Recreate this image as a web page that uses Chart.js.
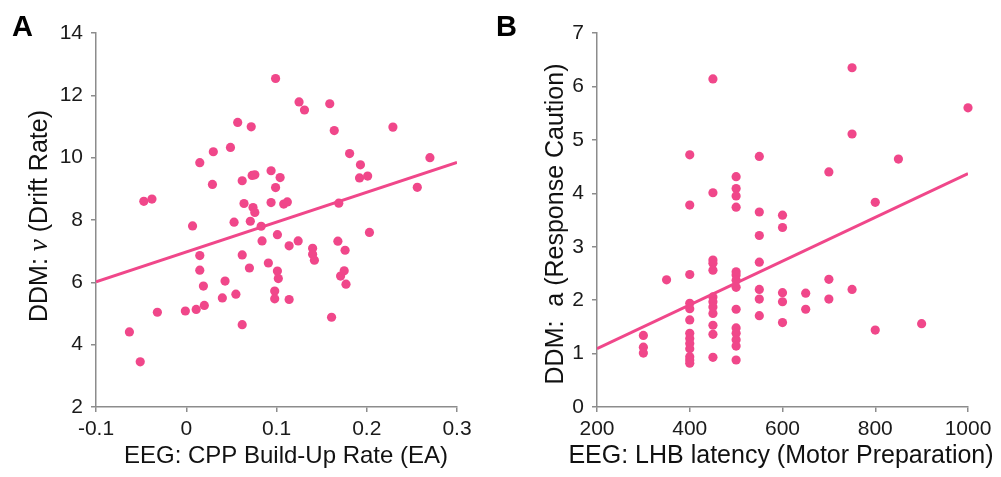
<!DOCTYPE html>
<html>
<head>
<meta charset="utf-8">
<script src="https://cdn.jsdelivr.net/npm/chart.js@4/dist/chart.umd.min.js"></script>
<style>
  body { margin: 0; background: #fff; }
  #wrap { position: relative; width: 1001px; height: 477px; }
  .panel { position: absolute; top: 0; height: 477px; }
  #boxA { left: 0; width: 480px; }
  #boxB { left: 480px; width: 521px; }
  .letter { position: absolute; top: 10px; line-height: 1; font: bold 29px "Liberation Sans", Arial, sans-serif; color: #000; }
</style>
</head>
<body>
<div id="wrap">
  <div class="panel" id="boxA"><canvas id="chartA"></canvas></div>
  <div class="panel" id="boxB"><canvas id="chartB"></canvas></div>
  <div class="letter" style="left:12px">A</div>
  <div class="letter" style="left:496px">B</div>
</div>
<script>
// Panel A - CPP build-up rate vs drift rate
const cppRate = [-0.063, -0.051, -0.047, -0.038, -0.032, -0.001, 0.007, 0.011, 0.015, 0.015, 0.015, 0.019, 0.020,
  0.029, 0.030, 0.040, 0.043, 0.049, 0.053, 0.055, 0.057, 0.062, 0.062, 0.062, 0.064, 0.070, 0.071, 0.072,
  0.073, 0.076, 0.074, 0.076, 0.083, 0.084, 0.091, 0.094, 0.094, 0.098, 0.098, 0.099, 0.099, 0.101, 0.101,
  0.102, 0.104, 0.108, 0.112, 0.114, 0.114, 0.124, 0.125, 0.131, 0.140, 0.140, 0.142, 0.159, 0.161, 0.164,
  0.168, 0.169, 0.171, 0.175, 0.176, 0.177, 0.181, 0.192, 0.193, 0.201, 0.203, 0.229, 0.256, 0.270];
const driftRate = [4.41, 3.45, 8.60, 8.67, 5.04, 5.08, 7.81, 5.13, 9.84, 6.86, 6.39, 5.88, 5.26,
  9.14, 10.19, 5.50, 6.04, 10.33, 7.93, 5.62, 11.13, 9.26, 6.88, 4.64, 8.53, 6.46, 7.96, 10.99,
  9.43, 9.45, 8.40, 8.24, 7.80, 7.33, 6.62, 9.58, 8.56, 5.72, 5.47, 12.54, 9.04, 7.53, 6.36,
  6.12, 9.36, 8.51, 8.58, 7.17, 5.45, 7.33, 11.79, 11.53, 7.09, 6.90, 6.71, 11.73, 4.88, 10.87,
  7.32, 8.54, 6.20, 6.37, 7.03, 5.94, 10.13, 9.35, 9.77, 9.41, 7.60, 10.98, 9.05, 10.00];
const fitA_x = [-0.1, 0.3];
const fitA_y = [6.02, 9.85];

// Panel B - LHB latency vs response caution
const lhbLatency = [300, 300, 300, 350,
  400, 400, 400, 400, 400, 400, 400, 400, 400, 400, 400, 400, 400,
  450, 450, 450, 450, 450, 450, 450, 450, 450, 450, 450, 450,
  500, 500, 500, 500, 500, 500, 500, 500, 500, 500, 500, 500, 500, 500,
  550, 550, 550, 550, 550, 550, 550,
  600, 600, 600, 600, 600, 650, 650, 700, 700, 700, 750, 750, 750, 800, 800, 850, 900, 1000];
const responseCaution = [1.34, 1.12, 1.01, 2.38,
  4.72, 3.78, 2.48, 1.94, 1.84, 1.63, 1.38, 1.28, 1.19, 1.09, 0.94, 0.88, 0.82,
  6.14, 4.01, 2.75, 2.69, 2.56, 2.06, 1.97, 1.87, 1.75, 1.53, 1.36, 0.93,
  4.31, 4.09, 3.95, 3.74, 2.53, 2.47, 2.37, 2.24, 1.83, 1.48, 1.38, 1.26, 1.14, 0.88,
  4.69, 3.65, 3.21, 2.71, 2.20, 2.02, 1.71,
  3.59, 3.36, 2.14, 1.97, 1.58, 2.13, 1.83, 4.40, 2.39, 2.02, 6.35, 5.11, 2.20, 3.83, 1.44, 4.64, 1.56, 5.60];
const fitB_x = [200, 1000];
const fitB_y = [1.09, 4.37];

const xTicksA = [-0.1, 0, 0.1, 0.2, 0.3];
const yTicksA = [2, 4, 6, 8, 10, 12, 14];
const xTicksB = [200, 400, 600, 800, 1000];
const yTicksB = [0, 1, 2, 3, 4, 5, 6, 7];

const pink = "#f0478a";
const axisGray = "#8c8c8c";
const sans = "'Liberation Sans', Arial, sans-serif";

function toPoints(xs, ys) {
  return xs.map((x, i) => ({ x: x, y: ys[i] }));
}

function drawParts(ctx, parts, x, y) {
  let total = 0;
  parts.forEach((p) => { ctx.font = p.font; total += ctx.measureText(p.text).width; });
  let pos = x - total / 2;
  parts.forEach((p) => {
    ctx.font = p.font;
    ctx.fillText(p.text, pos, y);
    pos += ctx.measureText(p.text).width;
  });
}

// axis titles drawn by hand so the italic nu can be mixed in
const axisTitles = {
  id: "axisTitles",
  afterDraw(chart, args, opts) {
    const ctx = chart.ctx;
    ctx.save();
    ctx.fillStyle = "#111";
    ctx.textAlign = "left";
    ctx.textBaseline = "alphabetic";
    drawParts(ctx, opts.xParts, opts.xMid, opts.xBase);
    ctx.translate(opts.yCenter, opts.yMid);
    ctx.rotate(-Math.PI / 2);
    drawParts(ctx, opts.yParts, 0, 9);
    ctx.restore();
  },
};

function makePanel(canvasId, cfg) {
  const tickFont = { family: sans, size: 21 };
  return new Chart(document.getElementById(canvasId), {
    type: "scatter",
    data: {
      datasets: [
        {
          data: toPoints(cfg.xs, cfg.ys),
          pointRadius: 4.6,
          pointHoverRadius: 4.6,
          pointBackgroundColor: pink,
          pointBorderWidth: 0,
          clip: false,
        },
        {
          type: "line",
          data: toPoints(cfg.fitX, cfg.fitY),
          borderColor: pink,
          borderWidth: 3,
          pointRadius: 0,
          fill: false,
        },
      ],
    },
    options: {
      responsive: true,
      maintainAspectRatio: false,
      animation: false,
      events: [],
      layout: { autoPadding: false, padding: { top: 33, right: cfg.padRight, bottom: 0, left: 0 } },
      plugins: {
        legend: { display: false },
        tooltip: { enabled: false },
        axisTitles: cfg.titles,
      },
      scales: {
        x: {
          type: "linear",
          min: cfg.xTicks[0],
          max: cfg.xTicks[cfg.xTicks.length - 1],
          afterBuildTicks: (scale) => { scale.ticks = cfg.xTicks.map((v) => ({ value: v })); },
          afterFit: (scale) => { scale.height = 70; },
          ticks: { font: tickFont, color: "#1a1a1a", padding: 5, maxRotation: 0, callback: (v) => String(v) },
          grid: { drawOnChartArea: false, drawTicks: true, tickLength: 5, color: axisGray, lineWidth: 1.5 },
          border: { display: true, color: axisGray, width: 1.5 },
        },
        y: {
          type: "linear",
          min: cfg.yTicks[0],
          max: cfg.yTicks[cfg.yTicks.length - 1],
          afterBuildTicks: (scale) => { scale.ticks = cfg.yTicks.map((v) => ({ value: v })); },
          afterFit: (scale) => { scale.width = cfg.axisLeft; },
          ticks: { font: tickFont, color: "#1a1a1a", padding: 8, callback: (v) => String(v) },
          grid: { drawOnChartArea: false, drawTicks: true, tickLength: 5, color: axisGray, lineWidth: 1.5 },
          border: { display: true, color: axisGray, width: 1.5 },
        },
      },
    },
    plugins: [axisTitles],
  });
}

makePanel("chartA", {
  xs: cppRate, ys: driftRate, fitX: fitA_x, fitY: fitA_y,
  xTicks: xTicksA, yTicks: yTicksA, axisLeft: 96, padRight: 23,
  titles: {
    xParts: [{ text: "EEG: CPP Build-Up Rate (EA)", font: "24px " + sans }],
    xMid: 286, xBase: 463,
    yParts: [
      { text: "DDM: ", font: "25px " + sans },
      { text: "\u03BD", font: "italic 27px 'Liberation Serif', serif" },
      { text: " (Drift Rate)", font: "25px " + sans },
    ],
    yCenter: 38, yMid: 216,
  },
});

makePanel("chartB", {
  xs: lhbLatency, ys: responseCaution, fitX: fitB_x, fitY: fitB_y,
  xTicks: xTicksB, yTicks: yTicksB, axisLeft: 117, padRight: 33,
  titles: {
    xParts: [{ text: "EEG: LHB latency (Motor Preparation)", font: "25px " + sans }],
    xMid: 301, xBase: 463,
    yParts: [{ text: "DDM:  a (Response Caution)", font: "25px " + sans }],
    yCenter: 74, yMid: 224,
  },
});
</script>
</body>
</html>
